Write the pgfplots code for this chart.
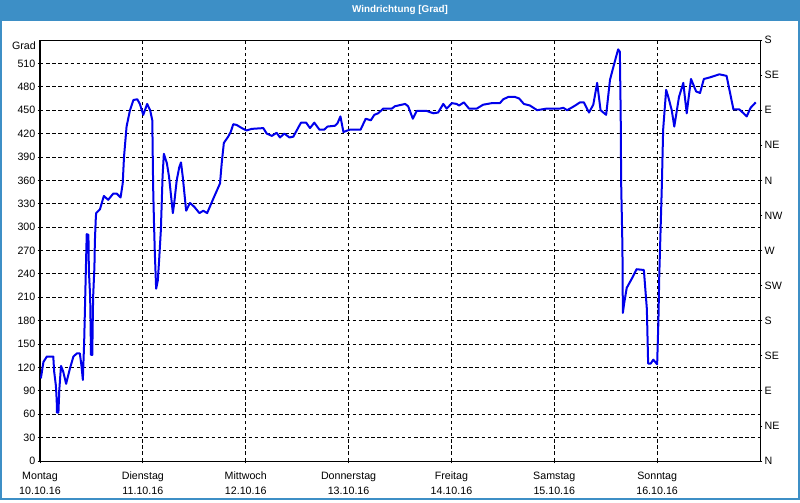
\documentclass[border=0pt]{standalone}
\usepackage{fontspec}
\setmainfont{Liberation Sans}
\usepackage{pgfplots}
\pgfplotsset{compat=1.18}
\definecolor{titleblue}{RGB}{61,143,198}
\definecolor{lineblue}{RGB}{0,0,235}
\begin{document}
\begin{tikzpicture}
% page: 800x500 px, 1px = 0.75pt
\fill[white] (0,0) rectangle (600pt,375pt);
\fill[titleblue] (0,359.5pt) rectangle (600pt,375pt);
\node[white, font=\fontsize{7.4}{8}\selectfont\bfseries] at (300pt,367.2pt) {Windrichtung [Grad]};
\draw[titleblue, line width=1.5pt] (0.75pt,0.75pt) rectangle (599.25pt,374.25pt);
\node[anchor=east, inner sep=0pt, font=\fontsize{8}{9}\selectfont] at (27pt,340.5pt) {Grad};

\begin{axis}[
    at={(30pt,29.25pt)}, anchor=south west,
    scale only axis, width=540pt, height=315.75pt,
    xmin=0, xmax=168, ymin=0, ymax=540,
    xtick={0,24,...,144},
    xticklabels={Montag\\10.10.16, Dienstag\\11.10.16, Mittwoch\\12.10.16,
                 Donnerstag\\13.10.16, Freitag\\14.10.16, Samstag\\15.10.16,
                 Sonntag\\16.10.16},
    ytick={0,30,...,510},
    tick pos=left, tick align=outside, major tick length=1.8pt,
    tick style={black, line width=0.6pt},
    axis line style={black, line width=0.75pt},
    grid=major,
    major grid style={black, line width=0.6pt, dash pattern=on 2.6pt off 2pt},
    /pgf/number format/assume math mode=true,
    ticklabel style={font=\fontsize{8}{11.25}\selectfont},
    yticklabel style={inner xsep=1.5pt},
    xticklabel style={align=center, inner ysep=6pt},
]
\addplot[color=lineblue, line width=1.5pt, line join=round] coordinates {
(0.2,106) (0.8,127) (1.6,134) (3.1,134) (3.3,115) (3.7,97) (3.9,78) (3.95,62)
(4.3,62) (4.5,91) (4.9,122) (5.4,115) (6.1,99) (7.0,119) (7.8,134) (8.6,138)
(9.3,138) (9.7,121) (10.0,104) (10.1,121) (10.3,151) (10.5,198) (10.7,245)
(10.9,291) (11.3,290) (11.4,245) (11.7,211) (11.8,177) (11.9,136) (12.2,136)
(12.3,177) (12.4,211) (12.7,249) (12.8,281) (13.0,309) (13.1,318) (14.0,323)
(14.9,340) (15.9,335) (17.1,343) (17.9,343) (18.8,338) (19.3,356) (19.6,390)
(20.2,429) (21.0,450) (21.8,463) (22.7,464) (23.3,458) (24.1,444) (25.0,458)
(25.7,450) (26.2,437) (26.3,395) (26.4,352) (26.6,305) (26.8,266) (27.1,221)
(27.5,232) (27.8,258) (28.2,296) (28.6,365) (28.9,394) (29.6,382) (30.1,365)
(30.6,339) (31.0,318) (31.3,330) (31.9,360) (32.5,377) (32.9,383) (33.3,365)
(33.7,343) (34.1,321) (35.0,331) (36.0,326) (37.2,318) (38.1,321) (39.0,318)
(40.4,336) (42.0,356) (42.4,382) (42.9,408) (43.9,416) (44.5,422) (45.1,432)
(45.9,431) (47.1,427) (48.2,424) (49.4,426) (52.1,427) (52.9,420) (54.1,417)
(55.2,421) (56.0,415) (57.0,420) (58.2,415) (59.1,416) (60.9,434) (62.1,434)
(63.0,427) (64.0,434) (65.2,425) (66.3,425) (67.1,429) (68.8,430) (69.4,433)
(70.1,442) (70.8,422) (72.3,425) (74.8,425) (76.0,439) (77.2,437) (78.0,444)
(78.9,446) (80.1,452) (82.1,452) (82.8,455) (85.2,458) (85.9,455) (87.0,439)
(87.9,449) (90.2,449) (91.8,446) (92.9,447) (94.1,458) (94.9,452) (96.1,459)
(97.2,458) (97.8,456) (98.9,460) (100.1,452) (101.9,452) (103.4,457) (105.4,459)
(107.3,459) (108.1,464) (109.3,467) (110.8,467) (111.8,465) (112.9,458)
(114.3,456) (116.0,450) (118.2,452) (121.3,452) (122.1,453) (123.0,450)
(124.6,455) (126.0,460) (126.9,460) (128.1,447) (129.1,457) (130.0,485)
(130.8,450) (132.1,444) (133.0,489) (134.2,514) (134.9,528) (135.3,525)
(135.5,442) (135.6,358) (135.9,275) (136.0,190) (136.3,202) (136.9,222)
(138.1,234) (139.2,246) (140.9,245) (141.6,195) (141.9,125) (142.5,125)
(143.1,130) (144.0,124) (144.3,181) (144.5,239) (144.8,296) (145.1,354)
(145.4,425) (146.1,476) (146.6,467) (147.4,450) (148.0,429) (149.1,467)
(150.1,485) (150.9,446) (151.9,490) (153.1,474) (154.0,472) (154.9,490)
(156.3,492) (158.5,496) (160.2,494) (161.8,451) (163.2,451) (164.9,442)
(165.8,453) (167.0,460)
};
\end{axis}

\begin{axis}[
    at={(30pt,29.25pt)}, anchor=south west,
    scale only axis, width=540pt, height=315.75pt,
    xmin=0, xmax=168, ymin=0, ymax=540,
    axis x line=none, axis y line*=right,
    ytick={0,45,...,540},
    yticklabels={N,NE,E,SE,S,SW,W,NW,N,NE,E,SE,S},
    tick align=outside, major tick length=1.8pt,
    tick style={black, line width=0.6pt},
    axis line style={black, line width=0.75pt},
    yticklabel style={font=\fontsize{8}{9}\selectfont, inner xsep=1.5pt},
]
\end{axis}
\end{tikzpicture}
\end{document}
